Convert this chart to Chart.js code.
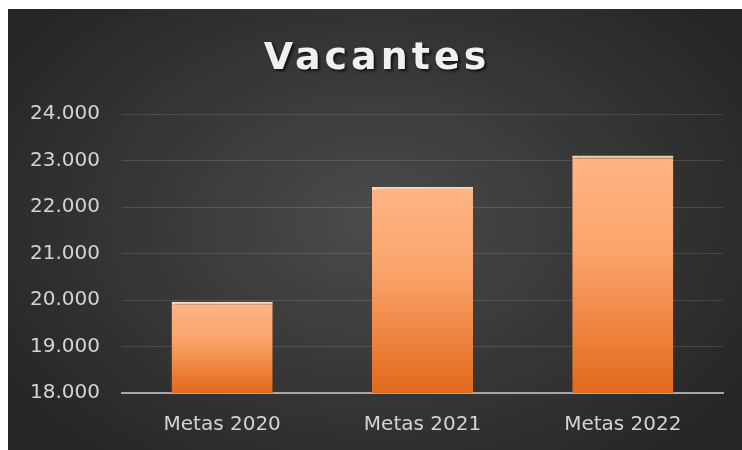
<!DOCTYPE html>
<html>
<head>
<meta charset="utf-8">
<script src="https://cdn.jsdelivr.net/npm/chart.js@4"></script>
<style>
  body { margin: 0; background: #fff; }
  #box {
    position: absolute; left: 8px; top: 9px; width: 734px; height: 441px;
    background: radial-gradient(ellipse 60% 70% at 50% 48%, #4b4b4b 0%, #3a3a3a 45%, #262626 100%);
  }
</style>
</head>
<body>
<div id="box"><canvas id="myChart" width="734" height="441"></canvas></div>
<script>
const categories = ['Metas 2020', 'Metas 2021', 'Metas 2022'];
const vacantes = [19960, 22430, 23110];
const yMin = 18000;
const yMax = 24000;
const yStep = 1000;

function formatMiles(v) {
    return String(v).replace(/\B(?=(\d{3})+(?!\d))/g, '.');
}

function barGradient(context) {
    const chart = context.chart;
    const y = chart.scales.y;
    if (!chart.chartArea || !y || context.parsed == null) return '#f4a06a';
    const top = y.getPixelForValue(context.parsed.y);
    const bottom = y.getPixelForValue(yMin);
    if (!isFinite(top) || !isFinite(bottom)) return '#f4a06a';
    const g = chart.ctx.createLinearGradient(0, top, 0, bottom);
    g.addColorStop(0, '#ffb585');
    g.addColorStop(0.4, '#fba46c');
    g.addColorStop(1, '#e2691c');
    return g;
}

// title with letter spacing and shadow
const titlePlugin = {
    id: 'titlePlugin',
    afterDraw(chart) {
        const ctx = chart.ctx;
        ctx.save();
        ctx.font = 'bold 38px "DejaVu Sans"';
        ctx.letterSpacing = '4px';
        ctx.textAlign = 'center';
        ctx.textBaseline = 'middle';
        ctx.shadowColor = 'rgba(0,0,0,0.7)';
        ctx.shadowOffsetX = 2;
        ctx.shadowOffsetY = 2;
        ctx.shadowBlur = 3;
        ctx.fillStyle = '#f0f0f0';
        ctx.fillText('Vacantes', chart.width / 2 + 2, 50);
        ctx.restore();
    }
};

const barShadow = {
    id: 'barShadow',
    beforeDatasetDraw(chart) {
        const ctx = chart.ctx;
        ctx.save();
        ctx.shadowColor = 'rgba(0,0,0,0.55)';
        ctx.shadowOffsetX = 3;
        ctx.shadowOffsetY = 1;
        ctx.shadowBlur = 4;
    },
    afterDatasetDraw(chart) {
        chart.ctx.restore();
    }
};

const ctx = document.getElementById('myChart');

new Chart(ctx, {
    type: 'bar',
    data: {
        labels: categories,
        datasets: [{
            label: 'Vacantes',
            data: vacantes,
            backgroundColor: barGradient,
            borderColor: '#ffdcb8',
            borderWidth: { top: 3, left: 0, right: 0, bottom: 0 },
            borderSkipped: false,
            categoryPercentage: 0.505,
            barPercentage: 1
        }]
    },
    options: {
        responsive: false,
        animation: false,
        layout: {
            padding: { top: 105, right: 19, left: 0, bottom: 0 }
        },
        plugins: {
            legend: { display: false },
            title: { display: false },
            tooltip: { enabled: false }
        },
        scales: {
            y: {
                min: yMin,
                max: yMax,
                ticks: {
                    stepSize: yStep,
                    padding: 22,
                    color: '#d4d4d4',
                    font: { family: 'DejaVu Sans', size: 20 },
                    callback: (v) => formatMiles(v)
                },
                grid: {
                    color: 'rgba(255,255,255,0.13)',
                    lineWidth: 1,
                    drawTicks: false
                },
                border: { display: false },
                afterFit(scale) { scale.width = 114; }
            },
            x: {
                ticks: {
                    padding: 20,
                    color: '#d4d4d4',
                    font: { family: 'DejaVu Sans', size: 20 }
                },
                grid: { display: false, drawTicks: false },
                border: { display: true, color: '#a6a6a6', width: 2 },
                afterFit(scale) { scale.height = 57; }
            }
        }
    },
    plugins: [barShadow, titlePlugin]
});
</script>
</body>
</html>
